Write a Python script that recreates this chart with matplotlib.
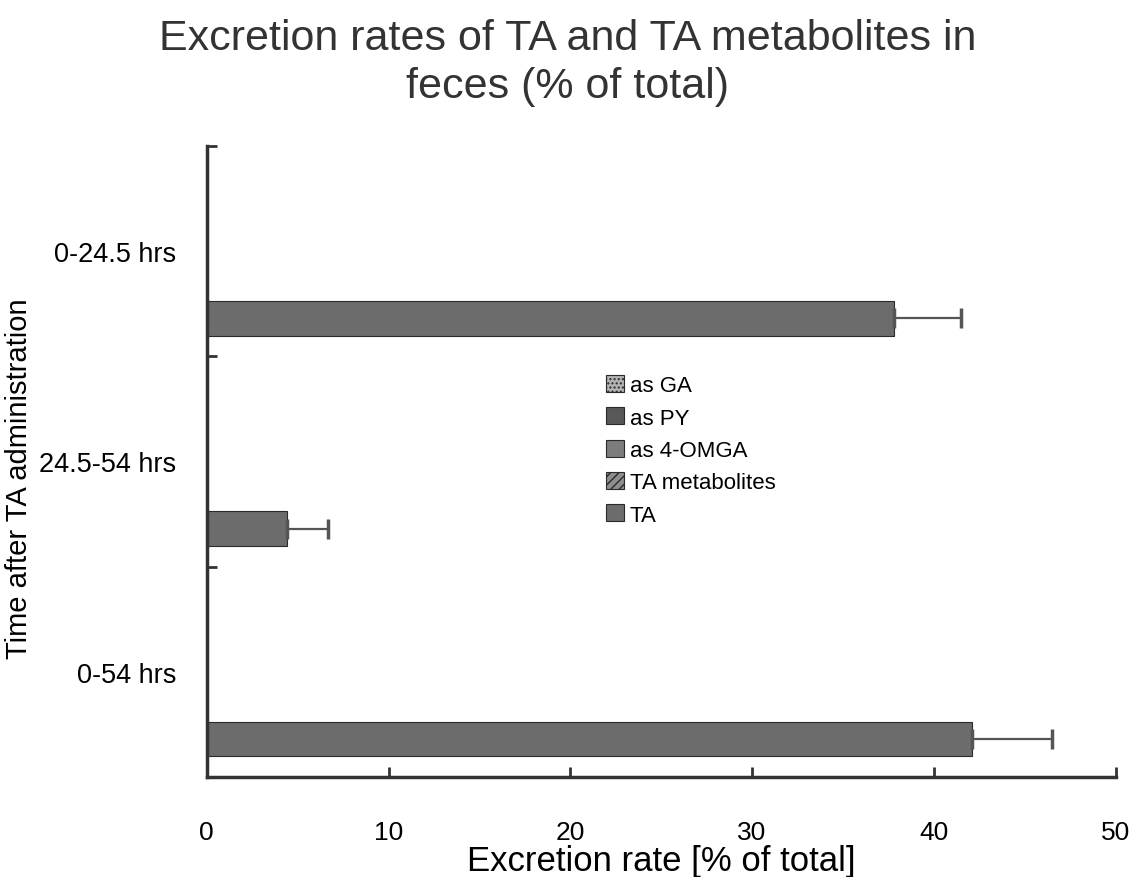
import matplotlib
matplotlib.use('agg')
import matplotlib.pyplot as plt
import numpy as np

plt.rcParams['font.family'] = ['Liberation Sans', 'DejaVu Sans']

# data
periods = ['0-24.5 hrs', '24.5-54 hrs', '0-54 hrs']
series = ['as GA', 'as PY', 'as 4-OMGA', 'TA metabolites', 'TA']
as_ga = [0, 0, 0]
as_py = [0, 0, 0]
as_4omga = [0, 0, 0]
ta_metabolites = [0, 0, 0]
ta = [37.8, 4.4, 42.1]
ta_err = [3.7, 2.25, 4.4]
xticks = [0, 10, 20, 30, 40, 50]

values = [as_ga, as_py, as_4omga, ta_metabolites, ta]
errors = [None, None, None, None, ta_err]
colors = ['#b4b4b4', '#585858', '#7c7c7c', '#8e8e8e', '#6c6c6c']
hatches = ['....', None, None, '////', None]

fig = plt.figure(figsize=(11.36, 8.78), dpi=100)
ax = fig.add_axes([0.182, 0.114, 0.8, 0.7186])

y = np.arange(len(periods))
step = 0.16
h = 0.165
for k, (name, vals) in enumerate(zip(series, values)):
    pos = y + (k - 2) * step
    ax.barh(pos, vals, height=h, color=colors[k], edgecolor='#2a2a2a',
            linewidth=0.8, hatch=hatches[k], label=name)
    if errors[k] is not None:
        err = np.array(errors[k])
        ax.errorbar(vals, pos, xerr=[np.zeros_like(err), err], fmt='none',
                    ecolor='#555555', elinewidth=1.6, capsize=7, capthick=2.5)

ax.set_xlim(0, 50)
ax.set_ylim(len(periods) - 0.5, -0.5)
ax.set_xticks(xticks)
ax.set_yticks(y)
ax.set_yticklabels(periods)
ax.set_yticks(np.arange(-0.5, len(periods), 1.0), minor=True)

ax.tick_params(axis='x', direction='in', length=7, width=2, pad=31,
               labelsize=19, color='#333333')
ax.tick_params(axis='y', which='major', length=0, pad=22, labelsize=19.5)
ax.tick_params(axis='y', which='minor', direction='in', length=7, width=2,
               color='#333333')

for s in ['top', 'right']:
    ax.spines[s].set_visible(False)
for s in ['left', 'bottom']:
    ax.spines[s].set_linewidth(2.5)
    ax.spines[s].set_color('#333333')

ax.set_xlabel('Excretion rate [% of total]', fontsize=25, labelpad=0)
ax.set_ylabel('Time after TA administration', fontsize=21)
ax.yaxis.set_label_coords(-0.191, 0.475)

fig.suptitle('Excretion rates of TA and TA metabolites in\nfeces (% of total)',
             x=0.5, y=0.978, va='top', fontsize=31, color='#333333',
             linespacing=1.25)

ax.legend(loc='upper left', bbox_to_anchor=(0.43, 0.651), frameon=False,
          fontsize=16, handlelength=0.8, handleheight=0.8,
          handletextpad=0.25, labelspacing=0.5, borderaxespad=0)

plt.savefig('out.png', dpi=100)
